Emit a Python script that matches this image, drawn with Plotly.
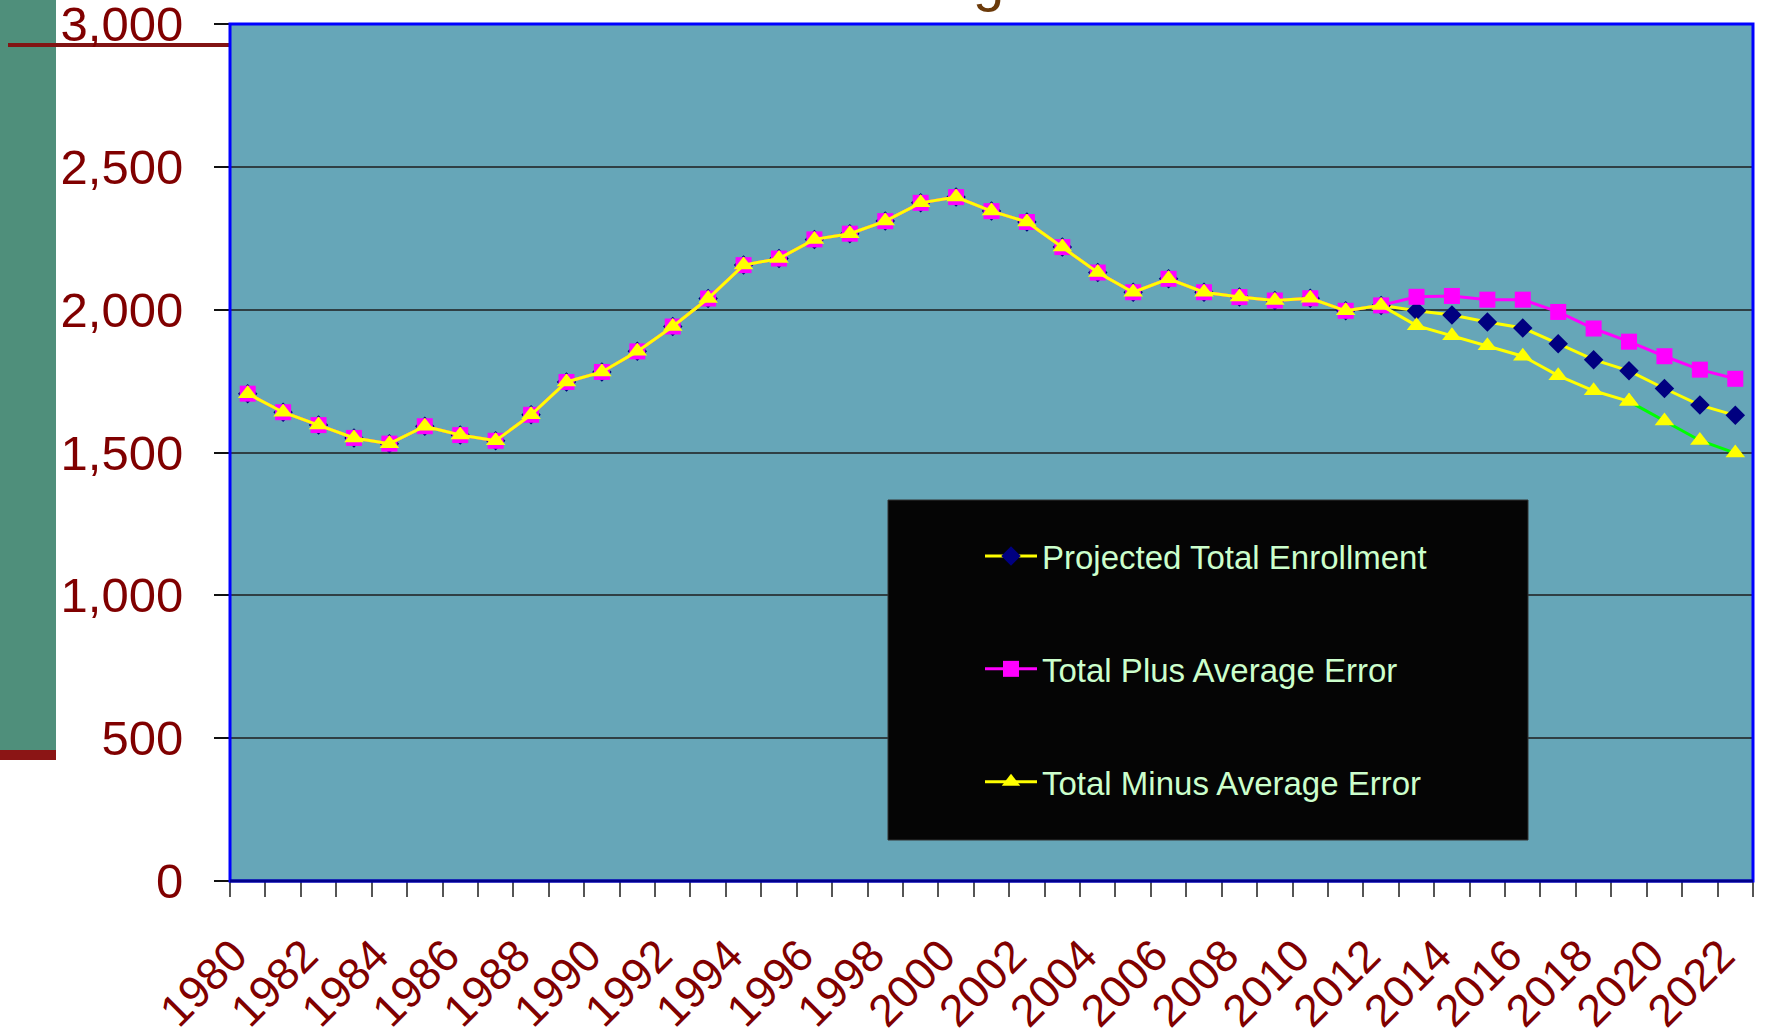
import plotly.graph_objects as go

# ---------------- data ----------------
years = list(range(1980, 2023))

actual = [1706, 1641, 1596, 1551, 1531, 1592, 1561, 1541, 1632, 1747,
          1782, 1854, 1941, 2039, 2156, 2179, 2246, 2266, 2310, 2374,
          2394, 2345, 2307, 2219, 2130, 2061, 2108, 2061, 2044, 2032,
          2040, 1996, 2015]

proj_future = [1996, 1981, 1957, 1936, 1881, 1825, 1786, 1724, 1666, 1630]
plus_future = [2045, 2048, 2035, 2035, 1992, 1934, 1888, 1837, 1790, 1758]
minus_future = [1944, 1909, 1874, 1837, 1769, 1716, 1679, 1610, 1542, 1498]

projected = actual + proj_future
plus_err = actual + plus_future
minus_err = actual + minus_future

tick_years = list(range(1980, 2023, 2))
tick_text = [str(y) for y in tick_years]

series_names = ["Projected Total Enrollment", "Total Plus Average Error",
                "Total Minus Average Error"]

# ---------------- layout geometry ----------------
W, H = 1765, 1034
L, R, T, B = 230, 12, 24, 153
PW, PH = W - L - R, H - T - B


def px(x):
    return (x - L) / PW


def py(y):
    return (H - B - y) / PH


FONT = "Liberation Sans, Arial, sans-serif"
DARKRED = "#800000"

fig = go.Figure()

fig.add_trace(go.Scatter(
    x=years, y=projected, name=series_names[0], legendgroup="a",
    mode="lines+markers",
    line=dict(color="#FFFF00", width=3),
    marker=dict(symbol="diamond", size=15, color="#000080"),
))
fig.add_trace(go.Scatter(
    x=years, y=plus_err, name=series_names[1], legendgroup="b",
    mode="lines+markers",
    line=dict(color="#FF00FF", width=3),
    marker=dict(symbol="square", size=16, color="#FF00FF"),
))
split = years.index(2019)
fig.add_trace(go.Scatter(
    x=years[split:], y=minus_err[split:], showlegend=False,
    mode="lines", line=dict(color="#00FF00", width=3), hoverinfo="skip",
))
fig.add_trace(go.Scatter(
    x=years[:split + 1], y=minus_err[:split + 1], name=series_names[2],
    legendgroup="c", mode="lines+markers",
    line=dict(color="#FFFF00", width=3),
    marker=dict(symbol="triangle-up", size=17, color="#FFFF00"),
))
fig.add_trace(go.Scatter(
    x=years[split:], y=minus_err[split:], showlegend=False,
    mode="markers", marker=dict(symbol="triangle-up", size=17, color="#FFFF00"),
))

shapes = [
    dict(type="rect", xref="paper", yref="paper", x0=px(0), x1=px(56),
         y0=py(0), y1=py(750), fillcolor="#4F8F7B", line=dict(width=0),
         layer="below"),
    dict(type="rect", xref="paper", yref="paper", x0=px(0), x1=px(56),
         y0=py(750), y1=py(760), fillcolor="#8B1515", line=dict(width=0),
         layer="below"),
    dict(type="line", xref="paper", yref="paper", x0=px(8), x1=px(230),
         y0=py(45), y1=py(45), line=dict(color="#821414", width=4),
         layer="below"),
    dict(type="rect", xref="paper", yref="paper", x0=px(888), x1=px(1528),
         y0=py(500), y1=py(840), fillcolor="#050505",
         line=dict(color="#333333", width=1), layer="above"),
    dict(type="rect", xref="paper", yref="paper", x0=0, x1=1, y0=0, y1=1,
         line=dict(color="#0000FF", width=3), layer="above"),
    dict(type="line", xref="paper", yref="paper", x0=0, x1=1, y0=0, y1=0,
         line=dict(color="#00008B", width=3), layer="above"),
]

fig.update_layout(
    width=W, height=H,
    margin=dict(l=L, r=R, t=T, b=B, pad=0, autoexpand=False),
    paper_bgcolor="white",
    plot_bgcolor="#66A6B8",
    shapes=shapes,
    showlegend=True,
    legend=dict(
        x=px(980), y=py(528), xanchor="left", yanchor="top",
        bgcolor="rgba(0,0,0,0)", borderwidth=0,
        font=dict(family=FONT, size=33, color="#CCFFCC"),
        tracegroupgap=67, itemwidth=52, traceorder="grouped",
    ),
    annotations=[
        dict(text="g", xref="paper", yref="paper", x=px(988), y=py(14),
             xanchor="center", yanchor="bottom", showarrow=False,
             font=dict(family=FONT, size=56, color="#6B3A0A")),
    ],
)

fig.update_xaxes(
    range=[1979.5, 2022.5], automargin=False,
    tickmode="array", tickvals=tick_years, ticktext=tick_text,
    tickangle=-45, ticks="", ticklabelstandoff=38, ticklabelshift=-14,
    tickfont=dict(family=FONT, size=45, color=DARKRED),
    showgrid=False, zeroline=False, showline=False,
    minor=dict(tickmode="array", tickvals=[y - 0.5 for y in years + [2023]],
               ticks="outside", ticklen=15, tickwidth=1.5, tickcolor="#555555",
               showgrid=False),
)
fig.update_yaxes(
    range=[0, 3000], automargin=False, ticklabeloverflow="allow",
    tickmode="linear", tick0=0, dtick=500,
    tickformat=",", ticks="outside", ticklen=15, tickwidth=1.5,
    tickcolor="#111111", ticklabelstandoff=21,
    tickfont=dict(family=FONT, size=49, color=DARKRED),
    showgrid=True, gridcolor="#2F3F44", gridwidth=1.5,
    zeroline=False, showline=False,
)

fig.write_html(
    "out.html",
    config={"displayModeBar": False},
    post_script="document.body.style.margin='0';document.body.style.padding='0';",
)
